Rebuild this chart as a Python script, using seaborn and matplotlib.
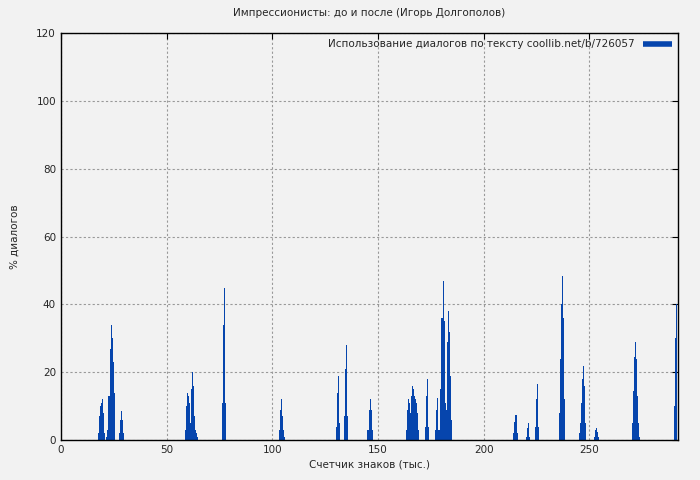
import matplotlib
matplotlib.use('Agg')
import matplotlib.pyplot as plt
import seaborn as sns
from matplotlib.lines import Line2D

# x in thousands of chars (step 0.5), y in % of dialogs
pos_1 = [17.5, 18, 18.5, 19, 19.5, 20, 20.5, 21.5, 22, 22.5, 23, 23.5, 24, 24.5, 25, 27.5, 28, 28.5, 29, 29.5]
pct_1 = [2, 7, 10, 11, 12, 8, 2, 1, 3, 13, 27, 34, 30, 23, 14, 2, 6, 8.5, 6, 2]
pos_2 = [58.5, 59, 59.5, 60, 60.5, 61, 61.5, 62, 62.5, 63, 63.5, 64, 64.5, 76, 76.5, 77, 77.5]
pct_2 = [3, 10, 14, 13, 11, 5, 15, 20, 16, 7, 3, 2, 1, 11, 34, 45, 11]
pos_3 = [103, 103.5, 104, 104.5, 105, 105.5, 130, 130.5, 131, 131.5, 134, 134.5, 135, 135.5,
         145, 145.5, 146, 146.5, 147]
pct_3 = [3, 9, 12, 7, 3, 1, 4, 14, 19, 5, 7, 21, 28, 7, 3, 9, 12, 9, 3]
pos_4 = [163, 163.5, 164, 164.5, 165, 165.5, 166, 166.5, 167, 167.5, 168, 168.5, 169,
         172, 172.5, 173, 173.5,
         177, 177.5, 178, 178.5, 179, 179.5, 180, 180.5, 181, 181.5, 182, 182.5, 183, 183.5, 184, 184.5]
pct_4 = [3, 9, 12, 11, 8, 13, 16, 15, 13, 12, 11, 8, 3,
         4, 13, 18, 4,
         3, 9, 12.5, 3, 3, 15, 36, 47, 35, 11, 9, 29, 38, 32, 19, 6]
pos_5 = [214, 214.5, 215, 215.5, 220, 220.5, 221, 221.5, 224, 224.5, 225, 225.5,
         235.5, 236, 236.5, 237, 237.5, 238, 245, 245.5, 246, 246.5, 247, 247.5, 248,
         252, 252.5, 253, 253.5, 254]
pct_5 = [2, 5.5, 7.5, 2, 1, 3.5, 5, 1, 4, 12, 16.5, 4,
         8, 24, 40, 48.5, 36, 12, 2, 5, 11, 18, 22, 16, 5,
         1, 3, 3.5, 2.5, 1]
pos_6 = [270, 270.5, 271, 271.5, 272, 272.5, 273, 273.5, 290, 290.5, 291]
pct_6 = [5, 14.5, 24.5, 29, 24, 13, 5, 1, 10, 30, 40]

pos = pos_1 + pos_2 + pos_3 + pos_4 + pos_5 + pos_6
pct = pct_1 + pct_2 + pct_3 + pct_4 + pct_5 + pct_6

sns.set_style('white')
plt.rcParams['font.family'] = ['DejaVu Sans']
bg = '#f2f2f2'
blue = '#0645ad'

fig = plt.figure(figsize=(7, 4.8), dpi=100, facecolor=bg)
ax = fig.add_axes([0.087, 0.083, 0.882, 0.848], facecolor=bg)

sns.histplot(x=pos, weights=pct, binwidth=0.5, binrange=(0, 292), color=blue,
             alpha=1, edgecolor=None, linewidth=0, ax=ax)

ax.set_xlim(0, 292)
ax.set_ylim(0, 120)
ax.set_xticks([0, 50, 100, 150, 200, 250])
ax.set_yticks(range(0, 121, 20))
ax.grid(True, color='#999999', linestyle=(0, (2, 2)), linewidth=0.8)
ax.set_axisbelow(True)
for s in ax.spines.values():
    s.set_color('black')
    s.set_linewidth(1)
ax.tick_params(direction='in', top=True, right=True, labelsize=7.5, length=4, color='black')
ax.set_xlabel('Счетчик знаков (тыс.)', fontsize=7.5, labelpad=3)
ax.set_ylabel('% диалогов', fontsize=7.5, labelpad=12)
ax.set_title('Импрессионисты: до и после (Игорь Долгополов)', fontsize=7.5, pad=12)

h = Line2D([0], [0], color=blue, lw=4, solid_capstyle='butt')
ax.legend([h], ['Использование диалогов по тексту coollib.net/b/726057'], loc='upper right',
          frameon=False, fontsize=7.5, markerfirst=False, handlelength=2.8, borderaxespad=0.2)

fig.savefig('out.png', dpi=100, facecolor=bg)
